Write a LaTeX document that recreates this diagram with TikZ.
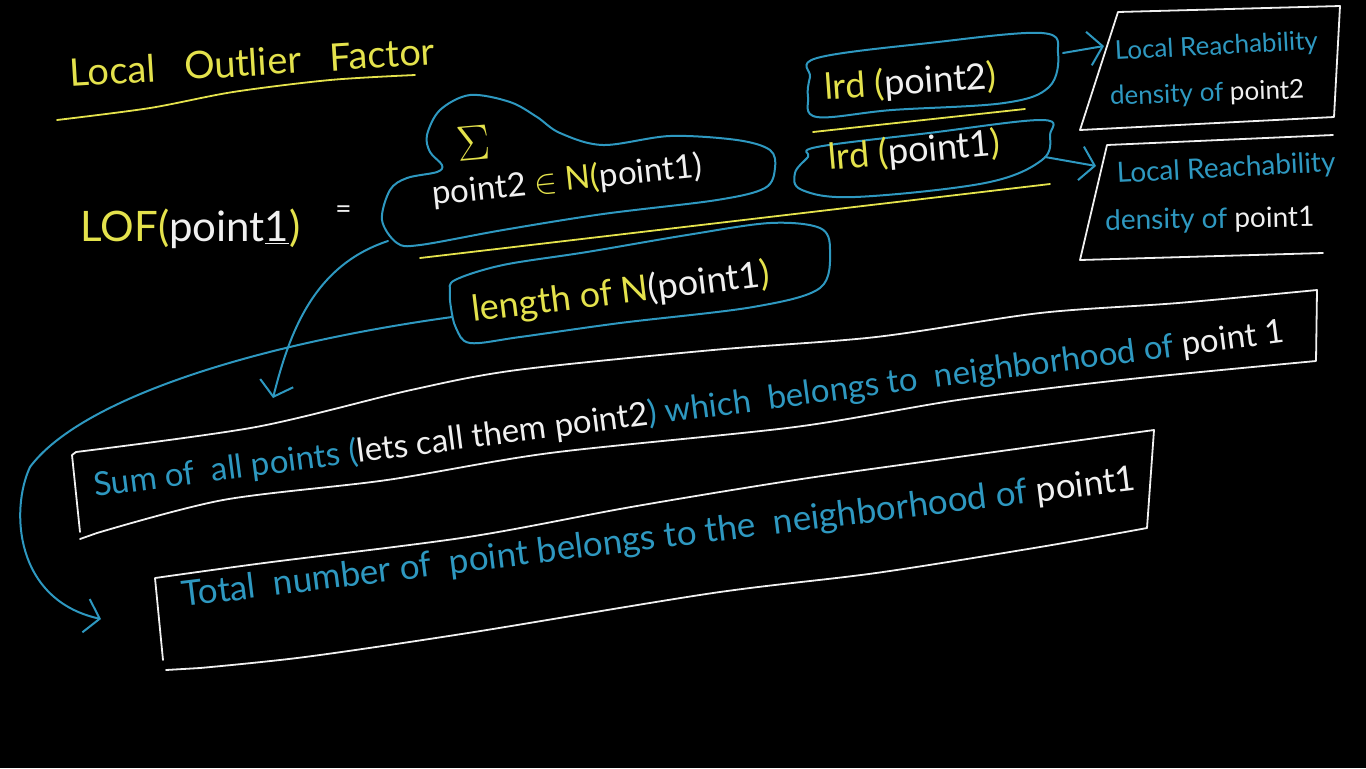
\documentclass[tikz,border=0pt]{standalone}
\usepackage{fontspec}
\setmainfont{Lato}
\usetikzlibrary{arrows.meta}
\definecolor{ChalkBlue}{HTML}{2E98C0}
\definecolor{ChalkYellow}{HTML}{E4E24C}
\definecolor{ChalkWhite}{HTML}{F0F0F0}
\newcommand{\fs}[1]{\fontsize{#1}{#1}\selectfont}

\begin{document}
\begin{tikzpicture}[x=0.5pt,y=-0.5pt,
  hand/.style={inner sep=0pt,anchor=base west},
  blueline/.style={ChalkBlue,line width=1pt,line cap=round,line join=round},
  whiteline/.style={ChalkWhite,line width=0.9pt,line cap=round,line join=round},
  yellowline/.style={ChalkYellow,line width=0.9pt,line cap=round},
  chalkarrow/.style={blueline,-{Straight Barb[length=7pt,width=17pt]}}]
\fill[black] (0,0) rectangle (1366,768);
\path[use as bounding box] (0,0) rectangle (1366,768);
% title
\node[hand,ChalkYellow,rotate=3.5] (title) at (70,87) {\fs{19}Local\ \ \ Outlier\ \ \ Factor};
\draw[yellowline] plot[smooth] coordinates {(57,120) (150,108) (233,92) (330,80) (415,75)};
% LOF(point1) =
\node[hand] (lof) at (80,241) {\fs{21}\textcolor{ChalkYellow}{LOF(}\textcolor{ChalkWhite}{point\underline{1}}\textcolor{ChalkYellow}{)}};
\node[hand,ChalkWhite] (equals) at (335,218) {\fs{14}=};
% numerator cloud
\draw[blueline] plot[smooth cycle,tension=0.55] coordinates {(397,243) (382,220) (390,190) (407,178) (437,172) (442,165) (430,152) (427,135) (440,110) (470,95) (510,102) (537,117) (560,133) (603,145) (670,136) (737,140) (770,150) (775,168) (765,188) (717,200) (603,214) (503,230) (420,245)};
\node[ChalkYellow,inner sep=0pt,rotate=5] (sigma) at (474,143) {\fs{26}$\Sigma$};
\node[hand,rotate=6] (index) at (433,205) {\fs{16.5}\textcolor{ChalkWhite}{point2} \textcolor{ChalkYellow}{$\in$ N(}\textcolor{ChalkWhite}{point1)}};
\draw[yellowline] (420,258) -- (1050,184);
% denominator
\draw[blueline] plot[smooth cycle,tension=0.55] coordinates {(455,280) (503,265) (587,252) (687,235) (770,223) (820,228) (830,250) (820,288) (753,307) (620,323) (520,337) (470,343) (456,328) (451,308) (450,292)};
\node[hand,rotate=7] (length) at (473,322) {\fs{18}\textcolor{ChalkYellow}{length of N}\textcolor{ChalkWhite}{(point1}\textcolor{ChalkYellow}{)}};
% lrd ratio
\draw[blueline] plot[smooth cycle,tension=0.6] coordinates {(817,58) (929,43) (1042,33) (1058,53) (1049,87) (1004,103) (892,110) (817,117) (808,97) (810,77)};
\node[hand,rotate=4] (lrdtwo) at (825,100) {\fs{18}\textcolor{ChalkYellow}{lrd (}\textcolor{ChalkWhite}{point2}\textcolor{ChalkYellow}{)}};
\draw[yellowline] (813,132) -- (1025,109);
\draw[blueline] plot[smooth cycle,tension=0.6] coordinates {(817,147) (929,133) (1042,120) (1050,135) (1042,160) (985,183) (855,197) (802,190) (795,173) (808,157)};
\node[hand,rotate=5] (lrdone) at (829,170) {\fs{18}\textcolor{ChalkYellow}{lrd (}\textcolor{ChalkWhite}{point1}\textcolor{ChalkYellow}{)}};
% density boxes
\draw[whiteline] (1080,130) -- (1118,12) -- (1340,6) -- (1334,117) -- cycle;
\node[hand,ChalkBlue,rotate=3] (rdtwo) at (1115,60) {\fs{13}Local Reachability};
\node[hand,rotate=2] (rdtwoof) at (1110,105) {\fs{13}\textcolor{ChalkBlue}{density of }\textcolor{ChalkWhite}{point2}};
\draw[whiteline] (1333,135) -- (1107,145) -- (1080,260) -- (1323,253);
\node[hand,ChalkBlue,rotate=3] (rdone) at (1117,183) {\fs{14}Local Reachability};
\node[hand,rotate=1] (rdoneof) at (1105,230) {\fs{14}\textcolor{ChalkBlue}{density of }\textcolor{ChalkWhite}{point1}};
\coordinate (lrdtwo-out) at (1063,53);
\coordinate (rdtwo-in) at (1104,46);
\draw[chalkarrow] (lrdtwo-out) -- (rdtwo-in);
\coordinate (lrdone-out) at (1045,157);
\coordinate (rdone-in) at (1096,166);
\draw[chalkarrow] (lrdone-out) -- (rdone-in);
% explanation boxes
\draw[whiteline] (80,532) -- (72,455) -- plot[smooth,tension=0.5] coordinates {(76,452) (256,427) (411,390) (517,370) (713,350) (876,337) (1040,313) (1178,303) (1317,290)} -- (1316,361) -- plot[smooth,tension=0.5] coordinates {(1316,361) (1121,380) (958,400) (795,427) (550,453) (387,480) (223,500) (97,533)} -- (80,539);
\node[hand,rotate=7.4] (sumtext) at (95,497) {\fs{16.5}\textcolor{ChalkBlue}{Sum of \ all points (}\textcolor{ChalkWhite}{lets call them point2}\textcolor{ChalkBlue}{) which \ belongs to \ neighborhood of }\textcolor{ChalkWhite}{point 1}};
\draw[whiteline] (163,660) -- (155,578) -- plot[smooth,tension=0.5] coordinates {(155,578) (264,563) (468,537) (631,507) (795,480) (958,457) (1154,430)} -- (1147,528) -- plot[smooth,tension=0.5] coordinates {(1147,528) (1040,547) (876,573) (713,593) (468,633) (305,657) (200,668)} -- (166,670);
\node[hand,rotate=7] (totaltext) at (183,607) {\fs{17.5}\textcolor{ChalkBlue}{Total \ number of \ point belongs to the \ neighborhood of }\textcolor{ChalkWhite}{point1}};
\coordinate (cloudexit) at (388,241);
\coordinate (sumarrow) at (273,398);
\draw[chalkarrow] (cloudexit) .. controls (315,265) and (290,330) .. (sumarrow);
\coordinate (lengthexit) at (452,317);
\coordinate (totalarrow) at (101,619);
\draw[chalkarrow] (lengthexit) .. controls (250,345) and (80,400) .. (30,467) .. controls (10,510) and (15,600) .. (totalarrow);
\end{tikzpicture}
\end{document}
